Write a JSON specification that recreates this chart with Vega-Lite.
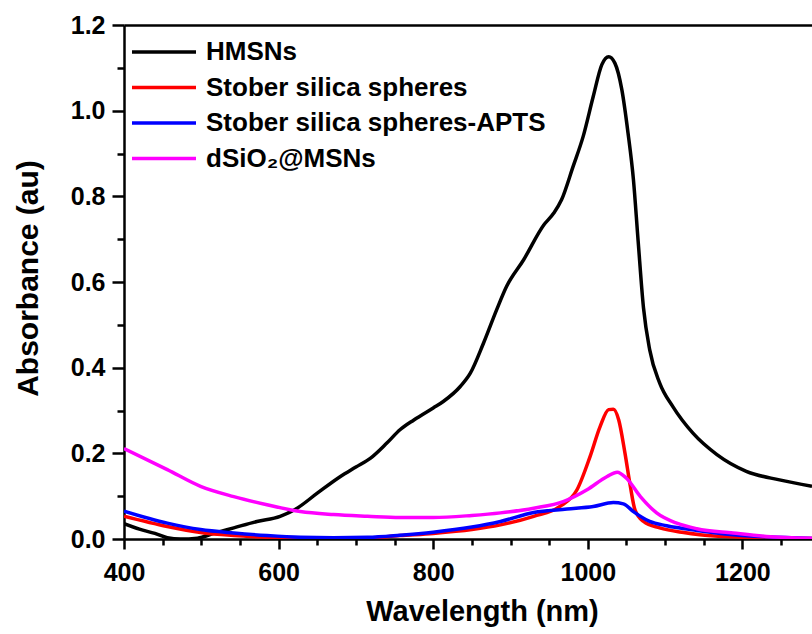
{
  "$schema": "https://vega.github.io/schema/vega-lite/v6.json",
  "autosize": {"type": "none"},
  "padding": {"left": 124, "top": 25, "right": 0, "bottom": 95},
  "width": 688,
  "height": 514,
  "background": "white",
  "config": {
    "view": {"stroke": null},
    "font": "Liberation Sans",
    "axis": {"domainColor": "black", "tickColor": "black", "labelColor": "black", "titleColor": "black", "grid": false, "labelFont": "Liberation Sans", "titleFont": "Liberation Sans", "labelFlush": false}
  },
  "datasets": {
    "spectra": [
      {"s": "HMSNs", "x": 400, "y": 0.036}, {"s": "HMSNs", "x": 420, "y": 0.023}, {"s": "HMSNs", "x": 440, "y": 0.013}, {"s": "HMSNs", "x": 456, "y": 0.003}, {"s": "HMSNs", "x": 473, "y": 0.0}, {"s": "HMSNs", "x": 495, "y": 0.002}, {"s": "HMSNs", "x": 516, "y": 0.013}, {"s": "HMSNs", "x": 542, "y": 0.026}, {"s": "HMSNs", "x": 572, "y": 0.041}, {"s": "HMSNs", "x": 602, "y": 0.053}, {"s": "HMSNs", "x": 624, "y": 0.072}, {"s": "HMSNs", "x": 650, "y": 0.107}, {"s": "HMSNs", "x": 680, "y": 0.146}, {"s": "HMSNs", "x": 700, "y": 0.168}, {"s": "HMSNs", "x": 719, "y": 0.189}, {"s": "HMSNs", "x": 740, "y": 0.224}, {"s": "HMSNs", "x": 757, "y": 0.255}, {"s": "HMSNs", "x": 775, "y": 0.278}, {"s": "HMSNs", "x": 800, "y": 0.306}, {"s": "HMSNs", "x": 813, "y": 0.321}, {"s": "HMSNs", "x": 835, "y": 0.356}, {"s": "HMSNs", "x": 848, "y": 0.387}, {"s": "HMSNs", "x": 865, "y": 0.457}, {"s": "HMSNs", "x": 882, "y": 0.535}, {"s": "HMSNs", "x": 895, "y": 0.59}, {"s": "HMSNs", "x": 917, "y": 0.652}, {"s": "HMSNs", "x": 943, "y": 0.733}, {"s": "HMSNs", "x": 956, "y": 0.761}, {"s": "HMSNs", "x": 966, "y": 0.792}, {"s": "HMSNs", "x": 981, "y": 0.87}, {"s": "HMSNs", "x": 994, "y": 0.94}, {"s": "HMSNs", "x": 1007, "y": 1.033}, {"s": "HMSNs", "x": 1018, "y": 1.107}, {"s": "HMSNs", "x": 1027, "y": 1.126}, {"s": "HMSNs", "x": 1035, "y": 1.111}, {"s": "HMSNs", "x": 1044, "y": 1.049}, {"s": "HMSNs", "x": 1052, "y": 0.948}, {"s": "HMSNs", "x": 1059, "y": 0.839}, {"s": "HMSNs", "x": 1065, "y": 0.698}, {"s": "HMSNs", "x": 1072, "y": 0.54}, {"s": "HMSNs", "x": 1080, "y": 0.442}, {"s": "HMSNs", "x": 1093, "y": 0.364}, {"s": "HMSNs", "x": 1110, "y": 0.309}, {"s": "HMSNs", "x": 1136, "y": 0.247}, {"s": "HMSNs", "x": 1167, "y": 0.197}, {"s": "HMSNs", "x": 1205, "y": 0.158}, {"s": "HMSNs", "x": 1248, "y": 0.138}, {"s": "HMSNs", "x": 1290, "y": 0.123},
      {"s": "Stober silica spheres", "x": 400, "y": 0.053}, {"s": "Stober silica spheres", "x": 456, "y": 0.029}, {"s": "Stober silica spheres", "x": 499, "y": 0.015}, {"s": "Stober silica spheres", "x": 542, "y": 0.008}, {"s": "Stober silica spheres", "x": 585, "y": 0.004}, {"s": "Stober silica spheres", "x": 628, "y": 0.001}, {"s": "Stober silica spheres", "x": 671, "y": 0.0}, {"s": "Stober silica spheres", "x": 715, "y": 0.002}, {"s": "Stober silica spheres", "x": 757, "y": 0.008}, {"s": "Stober silica spheres", "x": 800, "y": 0.013}, {"s": "Stober silica spheres", "x": 850, "y": 0.022}, {"s": "Stober silica spheres", "x": 887, "y": 0.033}, {"s": "Stober silica spheres", "x": 930, "y": 0.053}, {"s": "Stober silica spheres", "x": 964, "y": 0.076}, {"s": "Stober silica spheres", "x": 986, "y": 0.115}, {"s": "Stober silica spheres", "x": 1003, "y": 0.193}, {"s": "Stober silica spheres", "x": 1016, "y": 0.263}, {"s": "Stober silica spheres", "x": 1027, "y": 0.302}, {"s": "Stober silica spheres", "x": 1033, "y": 0.303}, {"s": "Stober silica spheres", "x": 1040, "y": 0.278}, {"s": "Stober silica spheres", "x": 1048, "y": 0.201}, {"s": "Stober silica spheres", "x": 1055, "y": 0.123}, {"s": "Stober silica spheres", "x": 1061, "y": 0.068}, {"s": "Stober silica spheres", "x": 1072, "y": 0.041}, {"s": "Stober silica spheres", "x": 1093, "y": 0.026}, {"s": "Stober silica spheres", "x": 1124, "y": 0.015}, {"s": "Stober silica spheres", "x": 1145, "y": 0.01}, {"s": "Stober silica spheres", "x": 1188, "y": 0.005}, {"s": "Stober silica spheres", "x": 1231, "y": 0.002}, {"s": "Stober silica spheres", "x": 1290, "y": 0.001},
      {"s": "Stober silica spheres-APTS", "x": 400, "y": 0.065}, {"s": "Stober silica spheres-APTS", "x": 456, "y": 0.037}, {"s": "Stober silica spheres-APTS", "x": 499, "y": 0.022}, {"s": "Stober silica spheres-APTS", "x": 542, "y": 0.014}, {"s": "Stober silica spheres-APTS", "x": 585, "y": 0.008}, {"s": "Stober silica spheres-APTS", "x": 628, "y": 0.004}, {"s": "Stober silica spheres-APTS", "x": 671, "y": 0.003}, {"s": "Stober silica spheres-APTS", "x": 715, "y": 0.004}, {"s": "Stober silica spheres-APTS", "x": 757, "y": 0.009}, {"s": "Stober silica spheres-APTS", "x": 800, "y": 0.016}, {"s": "Stober silica spheres-APTS", "x": 850, "y": 0.028}, {"s": "Stober silica spheres-APTS", "x": 887, "y": 0.041}, {"s": "Stober silica spheres-APTS", "x": 930, "y": 0.062}, {"s": "Stober silica spheres-APTS", "x": 973, "y": 0.07}, {"s": "Stober silica spheres-APTS", "x": 1007, "y": 0.076}, {"s": "Stober silica spheres-APTS", "x": 1033, "y": 0.085}, {"s": "Stober silica spheres-APTS", "x": 1046, "y": 0.082}, {"s": "Stober silica spheres-APTS", "x": 1059, "y": 0.064}, {"s": "Stober silica spheres-APTS", "x": 1080, "y": 0.041}, {"s": "Stober silica spheres-APTS", "x": 1102, "y": 0.031}, {"s": "Stober silica spheres-APTS", "x": 1141, "y": 0.02}, {"s": "Stober silica spheres-APTS", "x": 1188, "y": 0.01}, {"s": "Stober silica spheres-APTS", "x": 1231, "y": 0.005}, {"s": "Stober silica spheres-APTS", "x": 1290, "y": 0.001},
      {"s": "dSiO₂@MSNs", "x": 400, "y": 0.211}, {"s": "dSiO₂@MSNs", "x": 456, "y": 0.162}, {"s": "dSiO₂@MSNs", "x": 499, "y": 0.123}, {"s": "dSiO₂@MSNs", "x": 542, "y": 0.099}, {"s": "dSiO₂@MSNs", "x": 585, "y": 0.08}, {"s": "dSiO₂@MSNs", "x": 628, "y": 0.064}, {"s": "dSiO₂@MSNs", "x": 671, "y": 0.057}, {"s": "dSiO₂@MSNs", "x": 715, "y": 0.053}, {"s": "dSiO₂@MSNs", "x": 757, "y": 0.05}, {"s": "dSiO₂@MSNs", "x": 800, "y": 0.05}, {"s": "dSiO₂@MSNs", "x": 850, "y": 0.055}, {"s": "dSiO₂@MSNs", "x": 887, "y": 0.061}, {"s": "dSiO₂@MSNs", "x": 930, "y": 0.072}, {"s": "dSiO₂@MSNs", "x": 969, "y": 0.088}, {"s": "dSiO₂@MSNs", "x": 999, "y": 0.115}, {"s": "dSiO₂@MSNs", "x": 1025, "y": 0.146}, {"s": "dSiO₂@MSNs", "x": 1038, "y": 0.156}, {"s": "dSiO₂@MSNs", "x": 1050, "y": 0.142}, {"s": "dSiO₂@MSNs", "x": 1068, "y": 0.099}, {"s": "dSiO₂@MSNs", "x": 1089, "y": 0.061}, {"s": "dSiO₂@MSNs", "x": 1115, "y": 0.037}, {"s": "dSiO₂@MSNs", "x": 1141, "y": 0.024}, {"s": "dSiO₂@MSNs", "x": 1188, "y": 0.014}, {"s": "dSiO₂@MSNs", "x": 1231, "y": 0.006}, {"s": "dSiO₂@MSNs", "x": 1290, "y": 0.002}
    ]
  },
  "data": {"name": "spectra"},
  "layer": [
    {
      "mark": {"type": "line", "strokeWidth": 3.5, "interpolate": "monotone", "clip": true},
      "encoding": {
        "x": {"field": "x", "type": "quantitative", "scale": {"domain": [400, 1290], "nice": false, "zero": false},
          "axis": {"orient": "bottom", "values": [400, 600, 800, 1000, 1200], "format": "d", "tickSize": 10, "tickWidth": 2.5, "domainWidth": 2.5, "labelFontSize": 25, "labelFontWeight": "bold", "labelPadding": 11, "title": "Wavelength (nm)", "titleFontSize": 29, "titleFontWeight": "bold", "titleX": 358, "titleY": 81, "titleBaseline": "alphabetic"}},
        "y": {"field": "y", "type": "quantitative", "scale": {"domain": [0, 1.2], "nice": false, "zero": false},
          "axis": {"orient": "left", "values": [0, 0.2, 0.4, 0.6, 0.8, 1.0, 1.2], "format": ".1f", "tickSize": 12, "tickWidth": 2.5, "domainWidth": 2.5, "labelFontSize": 25, "labelFontWeight": "bold", "labelPadding": 7, "title": "Absorbance (au)", "titleFontSize": 30, "titleFontWeight": "bold", "titleX": -87, "titleY": 253, "titleAngle": -90, "titleAlign": "center", "titleBaseline": "alphabetic"}},
        "color": {"field": "s", "type": "nominal", "sort": null,
          "scale": {"domain": ["HMSNs", "Stober silica spheres", "Stober silica spheres-APTS", "dSiO₂@MSNs"], "range": ["#000000", "#ff0000", "#0000ff", "#ff00ff"]},
          "legend": {"orient": "none", "legendX": 27, "legendY": 14, "title": null, "symbolType": "M-8,0H8", "symbolSize": 64, "symbolStrokeWidth": 3.5, "symbolFillColor": "transparent", "labelFont": "Liberation Sans", "labelFontWeight": "bold", "labelFontSize": 26, "labelColor": "black", "labelOffset": 29, "rowPadding": 9.5, "padding": 0, "labelLimit": 0}}
      }
    },
    {
      "mark": {"type": "point", "opacity": 0},
      "encoding": {
        "x": {"field": "x", "type": "quantitative", "scale": {"domain": [400, 1290], "nice": false, "zero": false},
          "axis": {"orient": "bottom", "values": [450, 500, 550, 650, 700, 750, 850, 900, 950, 1050, 1100, 1150, 1250], "tickSize": 6, "tickWidth": 2.5, "domain": false, "labels": false, "title": null}},
        "y": {"field": "y", "type": "quantitative", "scale": {"domain": [0, 1.2], "nice": false, "zero": false},
          "axis": {"orient": "left", "values": [0.1, 0.3, 0.5, 0.7, 0.9, 1.1], "tickSize": 7, "tickWidth": 2.5, "domain": false, "labels": false, "title": null}}
      }
    },
    {
      "mark": {"type": "point", "opacity": 0},
      "encoding": {
        "x": {"field": "x", "type": "quantitative", "scale": {"domain": [400, 1290], "nice": false, "zero": false},
          "axis": {"orient": "top", "domainWidth": 2.5, "ticks": false, "labels": false, "title": null}},
        "y": {"field": "y", "type": "quantitative", "scale": {"domain": [0, 1.2], "nice": false, "zero": false}, "axis": null}
      }
    }
  ],
  "resolve": {"axis": {"x": "independent", "y": "independent"}}
}
